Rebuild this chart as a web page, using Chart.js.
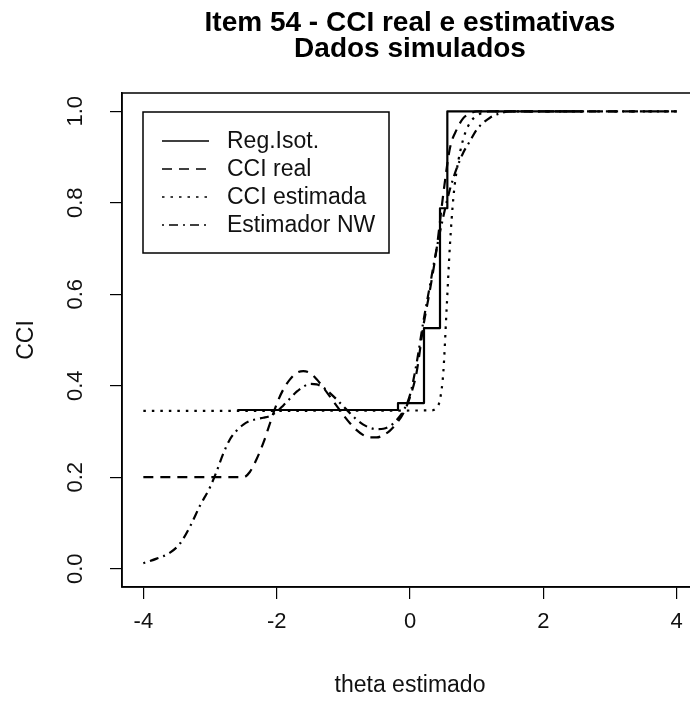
<!DOCTYPE html>
<html><head><meta charset="utf-8">
<script src="https://cdn.jsdelivr.net/npm/chart.js@4.4.1/dist/chart.umd.min.js"></script>
<style>
html,body{margin:0;padding:0;background:#fff;overflow:hidden;width:690px;height:702px}
#wrap{width:720px;height:702px}
</style></head><body>
<div id="wrap"><canvas id="c" width="720" height="702"></canvas></div>
<script>
// ---- data ----
const titleLines = ["Item 54 - CCI real e estimativas", "Dados simulados"];
const xLabel = "theta estimado";
const yLabel = "CCI";
const xTicks = [-4, -2, 0, 2, 4];
const yTicks = [0, 0.2, 0.4, 0.6, 0.8, 1.0];
const seriesNames = ["Reg.Isot.", "CCI real", "CCI estimada", "Estimador NW"];

const isoX = [-2.59, -0.18, 0.21, 0.45, 0.56, 2.59];
const isoY = [0.347, 0.362, 0.526, 0.788, 1.0, 1.0];

const realX = [-4, -2.5, -2.4, -2.3, -2.2, -2.1, -2.0, -1.9, -1.8, -1.7, -1.6, -1.5, -1.4, -1.3, -1.2, -1.1, -1.0, -0.9, -0.8, -0.7, -0.6, -0.5, -0.4, -0.3, -0.2, -0.1, 0.0, 0.1, 0.2, 0.3, 0.4, 0.5, 0.6, 0.7, 0.8, 0.9, 1.0, 4];
const realY = [0.2, 0.2, 0.212, 0.24, 0.275, 0.318, 0.36, 0.392, 0.414, 0.428, 0.432, 0.428, 0.414, 0.396, 0.376, 0.356, 0.336, 0.318, 0.303, 0.292, 0.287, 0.287, 0.292, 0.302, 0.318, 0.34, 0.375, 0.43, 0.53, 0.61, 0.70, 0.82, 0.92, 0.96, 0.985, 0.995, 1.0, 1.0];

const estX = [-4, 0.3, 0.4, 0.45, 0.5, 0.55, 0.6, 0.65, 0.7, 0.8, 0.9, 1.0, 1.2, 4];
const estY = [0.345, 0.346, 0.352, 0.37, 0.43, 0.57, 0.71, 0.81, 0.87, 0.94, 0.975, 0.99, 1.0, 1.0];

const nwX = [-4, -3.8, -3.6, -3.45, -3.3, -3.15, -3.0, -2.9, -2.8, -2.7, -2.6, -2.5, -2.4, -2.3, -2.2, -2.1, -2.0, -1.9, -1.8, -1.7, -1.6, -1.5, -1.4, -1.3, -1.2, -1.1, -1.0, -0.9, -0.8, -0.7, -0.6, -0.5, -0.4, -0.3, -0.2, -0.1, 0.0, 0.1, 0.2, 0.3, 0.4, 0.5, 0.6, 0.7, 0.8, 0.9, 1.0, 1.1, 1.2, 1.3, 1.5, 4];
const nwY = [0.012, 0.022, 0.035, 0.055, 0.092, 0.138, 0.178, 0.213, 0.252, 0.283, 0.302, 0.315, 0.323, 0.327, 0.33, 0.334, 0.343, 0.357, 0.372, 0.387, 0.398, 0.404, 0.403, 0.396, 0.384, 0.37, 0.355, 0.34, 0.326, 0.315, 0.308, 0.305, 0.306, 0.312, 0.325, 0.345, 0.38, 0.45, 0.54, 0.62, 0.70, 0.77, 0.83, 0.875, 0.91, 0.935, 0.96, 0.975, 0.986, 0.993, 1.0, 1.0];

// ---- helpers ----
const pts = (xs, ys) => xs.map((x, i) => ({x: x, y: ys[i]}));
const FONT = "'Liberation Sans', Arial, sans-serif";
const dashes = [[], [10, 7], [2.5, 6], [2, 5, 9, 5]];

const decor = {
  id: 'decor',
  afterDraw(chart) {
    const ctx = chart.ctx, ca = chart.chartArea;
    const ys = chart.scales.y;
    ctx.save();
    // box
    ctx.strokeStyle = '#000'; ctx.lineWidth = 1.5;
    ctx.strokeRect(ca.left, ca.top, ca.right - ca.left, ca.bottom - ca.top);
    // title
    const cx = (ca.left + ca.right) / 2;
    ctx.fillStyle = '#000';
    ctx.textAlign = 'center'; ctx.textBaseline = 'middle';
    ctx.font = "bold 28px " + FONT;
    ctx.fillText(titleLines[0], cx, 23);
    ctx.fillText(titleLines[1], cx, 49);
    // x label
    ctx.font = "23px " + FONT;
    ctx.fillStyle = '#111';
    ctx.fillText(xLabel, cx, 686);
    // y label
    ctx.save();
    ctx.translate(27, (ca.top + ca.bottom) / 2);
    ctx.rotate(-Math.PI / 2);
    ctx.fillText(yLabel, 0, 0);
    ctx.restore();
    // y tick labels rotated
    ctx.font = "22px " + FONT;
    yTicks.forEach(v => {
      const py = ys.getPixelForValue(v);
      ctx.save();
      ctx.translate(76, py);
      ctx.rotate(-Math.PI / 2);
      ctx.fillText(v.toFixed(1), 0, 0);
      ctx.restore();
    });
    // legend
    const lx = 143, ly = 112, lw = 246, lh = 141;
    ctx.fillStyle = '#fff';
    ctx.fillRect(lx, ly, lw, lh);
    ctx.strokeStyle = '#000'; ctx.lineWidth = 1.5;
    ctx.strokeRect(lx, ly, lw, lh);
    const rows = [141, 169, 197, 225];
    ctx.textAlign = 'left';
    ctx.font = "23px " + FONT;
    seriesNames.forEach((n, i) => {
      ctx.beginPath();
      ctx.setLineDash(dashes[i]);
      ctx.lineWidth = 1.5;
      ctx.moveTo(162, rows[i]); ctx.lineTo(209, rows[i]);
      ctx.stroke();
      ctx.setLineDash([]);
      ctx.fillStyle = '#111';
      ctx.fillText(n, 227, rows[i] + 1);
    });
    ctx.restore();
  }
};

const mk = (label, data, i, extra) => Object.assign({
  label: label, data: data, borderColor: '#000', backgroundColor: '#000',
  borderWidth: 2.2, borderDash: dashes[i], pointRadius: 0, fill: false,
  tension: 0, borderCapStyle: 'butt', borderJoinStyle: 'round'
}, extra || {});

new Chart(document.getElementById('c'), {
  type: 'line',
  data: {
    datasets: [
      mk(seriesNames[0], pts(isoX, isoY), 0, {stepped: 'before'}),
      mk(seriesNames[1], pts(realX, realY), 1, {cubicInterpolationMode: 'monotone', tension: 0.4}),
      mk(seriesNames[2], pts(estX, estY), 2, {cubicInterpolationMode: 'monotone', tension: 0.4}),
      mk(seriesNames[3], pts(nwX, nwY), 3, {cubicInterpolationMode: 'monotone', tension: 0.4})
    ]
  },
  options: {
    responsive: false, animation: false, devicePixelRatio: 1,
    layout: {padding: {top: 93, left: 0, right: 22, bottom: 0}},
    plugins: {legend: {display: false}, title: {display: false}, tooltip: {enabled: false}},
    scales: {
      x: {
        type: 'linear', min: -4.32, max: 4.32,
        afterBuildTicks: s => { s.ticks = xTicks.map(v => ({value: v})); },
        afterFit: s => { s.height = 115; },
        grid: {drawOnChartArea: false, drawTicks: true, tickLength: 12, color: '#000', lineWidth: 1.2},
        border: {display: true, color: '#000', width: 1.5},
        ticks: {color: '#111', font: {family: FONT, size: 22}, padding: 10, maxRotation: 0, autoSkip: false,
                callback: v => String(v)}
      },
      y: {
        type: 'linear', min: -0.04, max: 1.04,
        afterBuildTicks: s => { s.ticks = yTicks.map(v => ({value: v})); },
        afterFit: s => { s.width = 122; },
        grid: {drawOnChartArea: false, drawTicks: true, tickLength: 12, color: '#000', lineWidth: 1.2},
        border: {display: true, color: '#000', width: 1.5},
        ticks: {display: true, color: 'rgba(0,0,0,0)', font: {family: FONT, size: 22}, callback: v => ''}
      }
    }
  },
  plugins: [decor]
});
</script>
</body></html>
